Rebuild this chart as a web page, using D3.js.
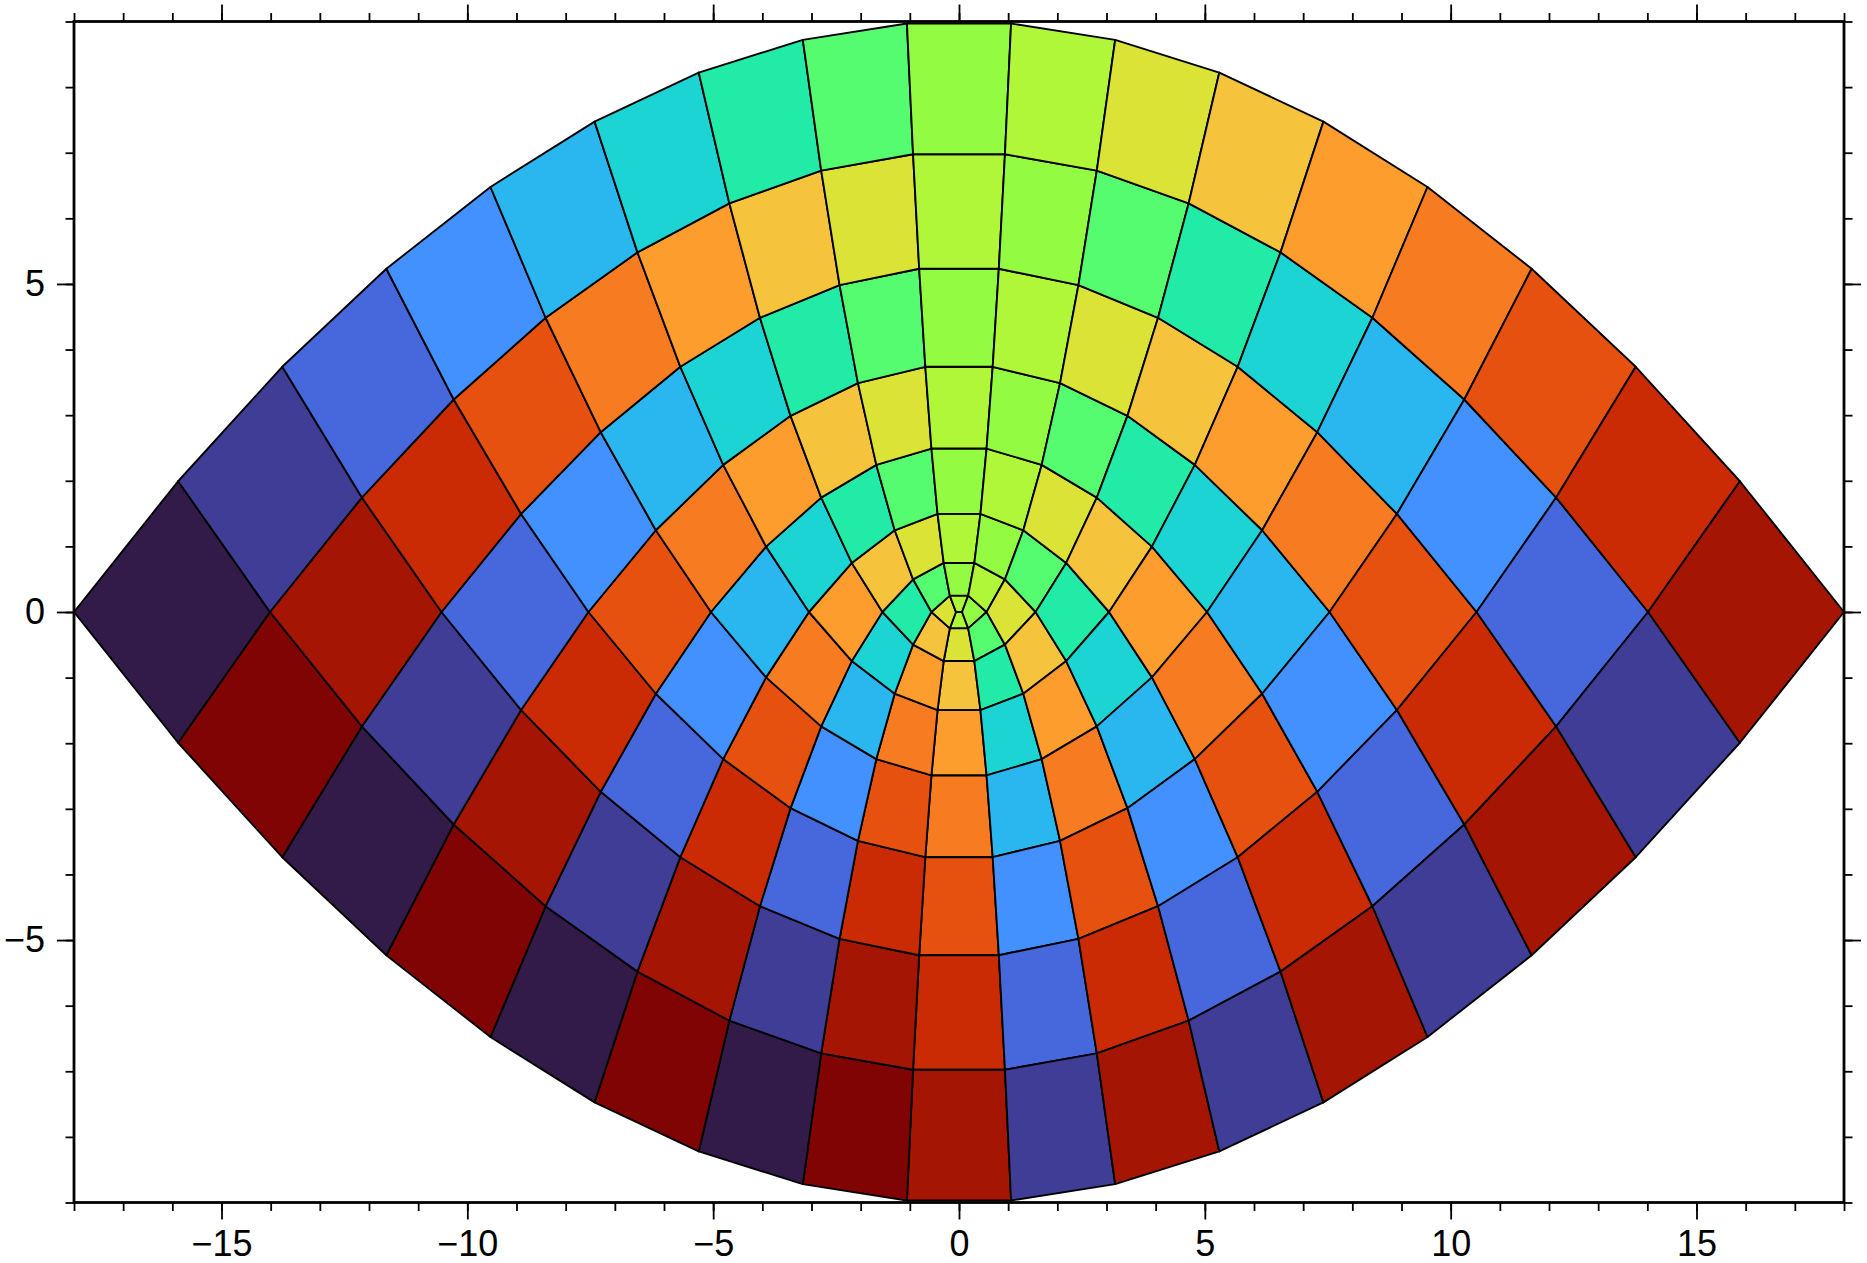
<!DOCTYPE html>
<html>
<head>
<meta charset="utf-8">
<script src="https://cdn.jsdelivr.net/npm/d3@7"></script>
<style>
  html, body { margin: 0; padding: 0; background: #fff; }
  svg { display: block; }
  text { font-family: "Liberation Sans", Arial, Helvetica, sans-serif; }
</style>
</head>
<body>
<svg id="chart" width="1867" height="1263"></svg>
<script>
// Parabolic grid nodes (u = radial-like coordinate rows, v = coordinate columns)
const uNodes = [-0.1765, 0.1765, 0.5294, 0.8824, 1.2353, 1.5882, 1.9412, 2.2941, 2.6471, 3.0];
const vNodes = [-3.0, -2.6471, -2.2941, -1.9412, -1.5882, -1.2353, -0.8824, -0.5294, -0.1765,
                0.1765, 0.5294, 0.8824, 1.2353, 1.5882, 1.9412, 2.2941, 2.6471, 3.0];

// Colour level of each visible cell (row = u band from centre outwards, column = v band)
const cellLevels = [
  [null, null, null, null, null, null, null, null, 8, 9, 10, 11, 12, 13, 14, 15, 16],
  [17, 16, 15, 14, 13, 12, 11, 10, 9, 8, 7, 6, 5, 4, 3, 2, 1],
  [0, 1, 2, 3, 4, 5, 6, 7, 8, 9, 10, 11, 12, 13, 14, 15, 16],
  [17, 16, 15, 14, 13, 12, 11, 10, 9, 8, 7, 6, 5, 4, 3, 2, 1],
  [0, 1, 2, 3, 4, 5, 6, 7, 8, 9, 10, 11, 12, 13, 14, 15, 16],
  [17, 16, 15, 14, 13, 12, 11, 10, 9, 8, 7, 6, 5, 4, 3, 2, 1],
  [0, 1, 2, 3, 4, 5, 6, 7, 8, 9, 10, 11, 12, 13, 14, 15, 16],
  [17, 16, 15, 14, 13, 12, 11, 10, 9, 8, 7, 6, 5, 4, 3, 2, 1],
  [0, 1, 2, 3, 4, 5, 6, 7, 8, 9, 10, 11, 12, 13, 14, 15, 16]
];

// Discrete palette (turbo-like), one colour per level
const palette = ["#321a49", "#403d96", "#4668dc", "#4291fe", "#2ab6ee", "#1cd4d4",
                 "#22eba7", "#55fc70", "#93fc42", "#b0f73a", "#dbe337", "#f5c43c",
                 "#fd9d2e", "#f77b20", "#e6510f", "#cb2b04", "#a41503", "#800404"];

// Axis ticks
const xMajorTicks = [-15, -10, -5, 0, 5, 10, 15];
const xMinorTicks = d3.range(-18, 19, 1);
const yMajorTicks = [-5, 0, 5];
const yMinorTicks = d3.range(-9, 10, 1);

const svg = d3.select("#chart");
const pLeft = 74, pRight = 1844, pTop = 21.5, pBottom = 1202.5;

const x = d3.scaleLinear().domain([-18, 18]).range([pLeft, pRight]);
const y = d3.scaleLinear().domain([-9, 9]).range([pBottom, pTop]);

const color = d3.scaleOrdinal().domain(d3.range(palette.length)).range(palette);

// Parabolic coordinates -> Cartesian
function toXY(u, v) { return [2 * u * v, u * u - v * v]; }

const cells = [];
cellLevels.forEach((row, r) => {
  row.forEach((lev, c) => {
    if (lev === null) return;
    const u0 = uNodes[r], u1 = uNodes[r + 1], v0 = vNodes[c], v1 = vNodes[c + 1];
    cells.push({
      level: lev,
      pts: [toXY(u0, v0), toXY(u1, v0), toXY(u1, v1), toXY(u0, v1)]
    });
  });
});

const line = d3.line().x(d => x(d[0])).y(d => y(d[1]));

svg.append("g").selectAll("path")
  .data(cells)
  .join("path")
  .attr("d", d => line(d.pts) + "Z")
  .attr("fill", d => color(d.level))
  .attr("stroke", "#000")
  .attr("stroke-width", 1.9)
  .attr("stroke-linejoin", "round");

// Axes
const fontSize = 36;
function styleAxis(g) {
  g.select(".domain").remove();
  g.selectAll(".tick line").attr("stroke", "#000").attr("stroke-width", 1.8);
  g.selectAll("text").attr("font-size", fontSize).attr("fill", "#000")
    .attr("font-family", "'Liberation Sans', Arial, sans-serif");
}

const minorLen = 8.5, majorLen = 17;

// bottom
svg.append("g").attr("transform", `translate(0,${pBottom})`)
  .call(d3.axisBottom(x).tickValues(xMinorTicks).tickSize(minorLen).tickFormat(""))
  .call(styleAxis);
svg.append("g").attr("transform", `translate(0,${pBottom})`)
  .call(d3.axisBottom(x).tickValues(xMajorTicks).tickSize(majorLen).tickPadding(11).tickFormat(d3.format("d")))
  .call(styleAxis);
// top
svg.append("g").attr("transform", `translate(0,${pTop})`)
  .call(d3.axisTop(x).tickValues(xMinorTicks).tickSize(minorLen).tickFormat(""))
  .call(styleAxis);
svg.append("g").attr("transform", `translate(0,${pTop})`)
  .call(d3.axisTop(x).tickValues(xMajorTicks).tickSize(majorLen).tickFormat(""))
  .call(styleAxis);
// left
svg.append("g").attr("transform", `translate(${pLeft},0)`)
  .call(d3.axisLeft(y).tickValues(yMinorTicks).tickSize(minorLen).tickFormat(""))
  .call(styleAxis);
svg.append("g").attr("transform", `translate(${pLeft},0)`)
  .call(d3.axisLeft(y).tickValues(yMajorTicks).tickSize(majorLen).tickPadding(12).tickFormat(d3.format("d")))
  .call(styleAxis);
// right
svg.append("g").attr("transform", `translate(${pRight},0)`)
  .call(d3.axisRight(y).tickValues(yMinorTicks).tickSize(minorLen).tickFormat(""))
  .call(styleAxis);
svg.append("g").attr("transform", `translate(${pRight},0)`)
  .call(d3.axisRight(y).tickValues(yMajorTicks).tickSize(majorLen).tickFormat(""))
  .call(styleAxis);

// Frame
svg.append("rect")
  .attr("x", pLeft).attr("y", pTop)
  .attr("width", pRight - pLeft).attr("height", pBottom - pTop)
  .attr("fill", "none").attr("stroke", "#000").attr("stroke-width", 2.8);
</script>
</body>
</html>
